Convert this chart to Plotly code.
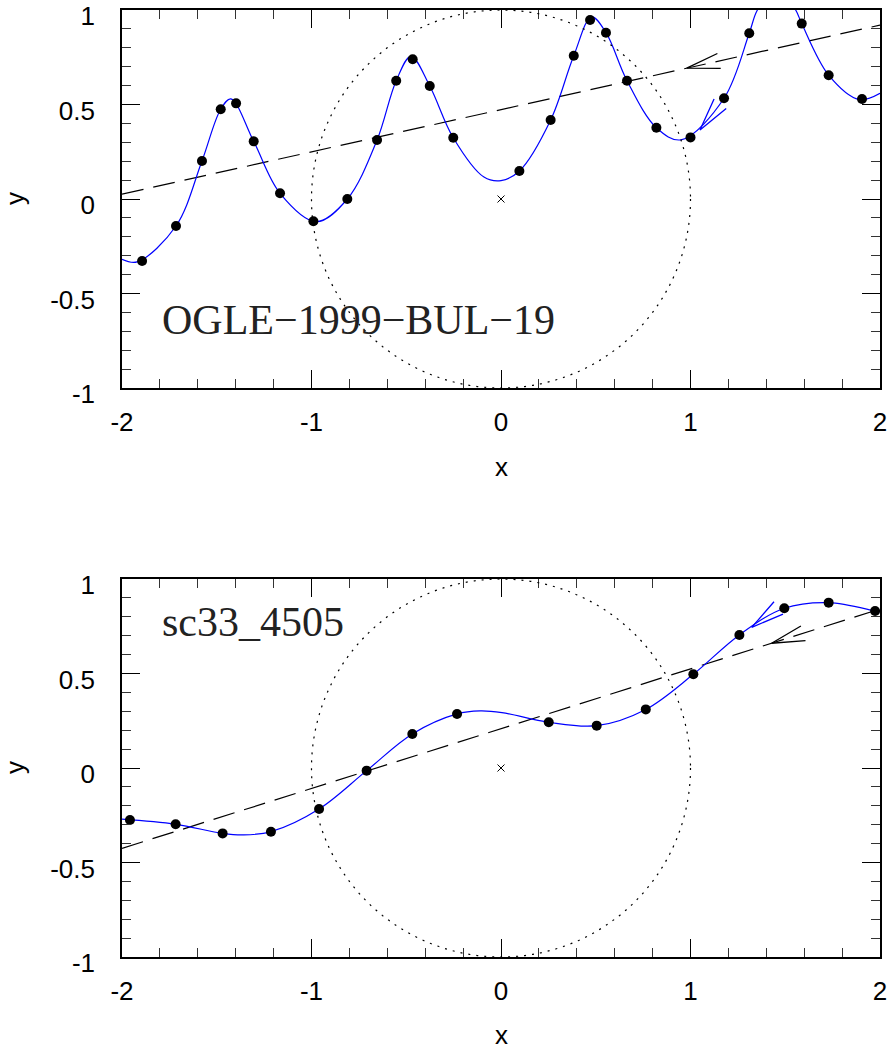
import numpy as np
import plotly.graph_objects as go

# ---------------- data ----------------
# Panel 1: OGLE-1999-BUL-19
top_pts_x = [-1.894, -1.715, -1.578, -1.479, -1.398, -1.305, -1.166, -0.990, -0.811, -0.654,
             -0.553, -0.466, -0.376, -0.252, 0.097, 0.262, 0.384, 0.470, 0.554, 0.665,
             0.820, 1.000, 1.177, 1.310, 1.587, 1.729, 1.905]
top_pts_y = [-0.328, -0.143, 0.201, 0.475, 0.506, 0.305, 0.030, -0.118, 0.000, 0.312,
             0.626, 0.739, 0.598, 0.324, 0.148, 0.418, 0.758, 0.947, 0.880, 0.626,
             0.377, 0.326, 0.533, 0.877, 0.928, 0.655, 0.529]
top_open_x = [-0.090]
top_open_y = [0.116]
top_curve_x = [-2.00, -1.92, -1.715, -1.578, -1.479, -1.425, -1.305, -1.166, -0.975, -0.811,
               -0.654, -0.553, -0.475, -0.376, -0.252, -0.090, 0.000, 0.097, 0.262, 0.384,
               0.478, 0.554, 0.665, 0.820, 0.950, 1.177, 1.310, 1.353, 1.455, 1.555,
               1.587, 1.729, 1.890, 2.00]
top_curve_y = [-0.319, -0.333, -0.143, 0.201, 0.475, 0.530, 0.305, 0.030, -0.120, 0.000,
               0.312, 0.626, 0.755, 0.598, 0.324, 0.116, 0.097, 0.148, 0.418, 0.758,
               0.963, 0.880, 0.626, 0.377, 0.313, 0.533, 0.877, 1.000, 1.130, 1.000,
               0.928, 0.655, 0.526, 0.559]
top_line_x = [-2.0, 2.0]
top_line_y = [0.026, 0.920]
top_label = "OGLE\u22121999\u2212BUL\u221219"

# Panel 2: sc33_4505
bot_pts_x = [-1.958, -1.717, -1.469, -1.214, -0.960, -0.709, -0.468, -0.232, 0.252, 0.505,
             0.764, 1.015, 1.258, 1.495, 1.729, 1.974]
bot_pts_y = [-0.275, -0.298, -0.346, -0.337, -0.217, -0.014, 0.180, 0.286, 0.242, 0.224,
             0.310, 0.496, 0.704, 0.845, 0.875, 0.831]
bot_open_x = [0.005]
bot_open_y = [0.293]
bot_curve_x = [-2.00, -1.717, -1.469, -1.360, -1.214, -0.960, -0.709, -0.468, -0.232, -0.110,
               0.005, 0.252, 0.505, 0.764, 1.015, 1.258, 1.495, 1.729, 1.974, 2.00]
bot_curve_y = [-0.271, -0.298, -0.346, -0.354, -0.337, -0.217, -0.014, 0.180, 0.286, 0.302,
               0.293, 0.242, 0.224, 0.310, 0.496, 0.704, 0.845, 0.875, 0.831, 0.826]
bot_line_x = [-2.0, 2.0]
bot_line_y = [-0.425, 0.841]
bot_label = "sc33_4505"

# tick labels
x_tickvals = [-2, -1, 0, 1, 2]
x_ticktext = ["-2", "-1", "0", "1", "2"]
y_tickvals = [-1, -0.5, 0, 0.5, 1]
y_ticktext = ["-1", "-0.5", "0", "0.5", "1"]

# arrow tips (x on the dashed line / curve) and directions
top_line_arrow_x = 0.98
top_curve_arrow = (1.05, 0.365, 52.5)   # tip x, tip y, direction (deg)
bot_line_arrow_x = 1.428
bot_curve_arrow = (1.323, 0.744, 36.0)

# ---------------- layout geometry ----------------
W, H = 887, 1051
xdom = [122 / W, 880 / W]
top_dom = [(H - 388) / H, (H - 10) / H]
bot_dom = [(H - 957) / H, (H - 579) / H]
sx = (xdom[1] - xdom[0]) * W / 4.0
sy = (top_dom[1] - top_dom[0]) * H / 2.0

BLUE = "#0000ff"
fig = go.Figure()


def arrow_xy(xt, yt, ang, L=34, half=13):
    xs, ys = [], []
    for a in (ang + half, None, ang - half):
        if a is None:
            xs.append(xt); ys.append(yt)
        else:
            r = np.radians(a)
            xs.append(xt + L * np.cos(r) / sx)
            ys.append(yt + L * np.sin(r) / sy)
    return xs, ys


def panel(xa, ya, cx, cy, px, py, ox, oy, lx, ly, line_arrow_x, curve_arrow):
    fig.add_trace(go.Scatter(x=lx, y=ly, mode="lines", xaxis=xa, yaxis=ya,
                             line=dict(color="black", width=1.2, dash="22px,10px"),
                             hoverinfo="skip"))
    fig.add_trace(go.Scatter(x=cx, y=cy, mode="lines", xaxis=xa, yaxis=ya,
                             line=dict(color=BLUE, width=1.2, shape="spline", smoothing=1.0),
                             hoverinfo="skip"))
    fig.add_trace(go.Scatter(x=px, y=py, mode="markers", xaxis=xa, yaxis=ya,
                             marker=dict(color="black", size=10, symbol="circle")))
    fig.add_trace(go.Scatter(x=ox, y=oy, mode="markers", xaxis=xa, yaxis=ya,
                             marker=dict(color="rgba(0,0,0,0)", size=12, symbol="circle-open",
                                         line=dict(color="black", width=1))))
    fig.add_trace(go.Scatter(x=[0], y=[0], mode="markers", xaxis=xa, yaxis=ya,
                             marker=dict(color="black", size=7, symbol="x-thin-open",
                                         line=dict(color="black", width=1))))
    # black arrow on the dashed line, pointing back along it
    slope = (ly[1] - ly[0]) / (lx[1] - lx[0])
    yt = float(np.interp(line_arrow_x, lx, ly))
    ang = np.degrees(np.arctan2(slope * sy, sx))
    ax_, ay_ = arrow_xy(line_arrow_x, yt, ang)
    fig.add_trace(go.Scatter(x=ax_, y=ay_, mode="lines", xaxis=xa, yaxis=ya,
                             line=dict(color="black", width=1.3), hoverinfo="skip"))
    bx, by = arrow_xy(curve_arrow[0], curve_arrow[1], curve_arrow[2])
    fig.add_trace(go.Scatter(x=bx, y=by, mode="lines", xaxis=xa, yaxis=ya,
                             line=dict(color=BLUE, width=1.3), hoverinfo="skip"))
    fig.add_shape(type="circle", xref=xa, yref=ya, x0=-1, x1=1, y0=-1, y1=1,
                  line=dict(color="black", width=1.2, dash="2px,6px"))


panel("x", "y", top_curve_x, top_curve_y, top_pts_x, top_pts_y, top_open_x, top_open_y,
      top_line_x, top_line_y, top_line_arrow_x, top_curve_arrow)
panel("x2", "y2", bot_curve_x, bot_curve_y, bot_pts_x, bot_pts_y, bot_open_x, bot_open_y,
      bot_line_x, bot_line_y, bot_line_arrow_x, bot_curve_arrow)

tickfont = dict(family="Liberation Sans, Arial, sans-serif", size=26, color="black")
common_x = dict(range=[-2, 2], tickmode="array", tickvals=x_tickvals, ticktext=x_ticktext,
                showline=True, linecolor="black", linewidth=1.6, automargin=False,
                ticklabeloverflow="allow",
                mirror="allticks", ticks="inside", ticklen=18, tickwidth=1, tickcolor="black",
                showgrid=False, zeroline=False, tickfont=tickfont, ticklabelstandoff=10,
                minor=dict(ticks="inside", ticklen=9, dtick=0.2, tick0=-2, tickcolor="#333",
                           tickwidth=1, showgrid=False))
common_y = dict(range=[-1, 1], tickmode="array", tickvals=y_tickvals, ticktext=y_ticktext,
                showline=True, linecolor="black", linewidth=1.6, automargin=False,
                ticklabeloverflow="allow", ticklabelshift=6,
                mirror="allticks", ticks="inside", ticklen=18, tickwidth=1, tickcolor="black",
                showgrid=False, zeroline=False, tickfont=tickfont, ticklabelstandoff=20,
                minor=dict(ticks="inside", ticklen=9, dtick=0.1, tick0=-1, tickcolor="#333",
                           tickwidth=1, showgrid=False))

fig.update_layout(
    width=W, height=H, margin=dict(l=0, r=0, t=0, b=0, autoexpand=False),
    paper_bgcolor="white", plot_bgcolor="white", showlegend=False,
    xaxis=dict(domain=xdom, anchor="y", **common_x),
    yaxis=dict(domain=top_dom, anchor="x", **common_y),
    xaxis2=dict(domain=xdom, anchor="y2", **common_x),
    yaxis2=dict(domain=bot_dom, anchor="x2", **common_y),
)

labfont = dict(family="Liberation Serif, Times New Roman, serif", size=42, color="#222")
axfont = dict(family="Liberation Sans, Arial, sans-serif", size=26, color="black")
xc = (xdom[0] + xdom[1]) / 2
anns = [
    dict(text=top_label, x=-1.80, y=-0.64, xref="x", yref="y", xanchor="left",
         yanchor="middle", showarrow=False, font=labfont),
    dict(text=bot_label, x=-1.80, y=0.77, xref="x2", yref="y2", xanchor="left",
         yanchor="middle", showarrow=False, font=labfont),
    dict(text="x", x=xc, y=(H - 467) / H, xref="paper", yref="paper", showarrow=False,
         xanchor="center", yanchor="middle", font=axfont),
    dict(text="x", x=xc, y=(H - 1035) / H, xref="paper", yref="paper", showarrow=False,
         xanchor="center", yanchor="middle", font=axfont),
    dict(text="y", x=15 / W, y=(H - 199) / H, xref="paper", yref="paper", showarrow=False,
         xanchor="center", yanchor="middle", textangle=-90, font=axfont),
    dict(text="y", x=15 / W, y=(H - 768) / H, xref="paper", yref="paper", showarrow=False,
         xanchor="center", yanchor="middle", textangle=-90, font=axfont),
]
fig.update_layout(annotations=anns)

fig.write_html("out.html")
